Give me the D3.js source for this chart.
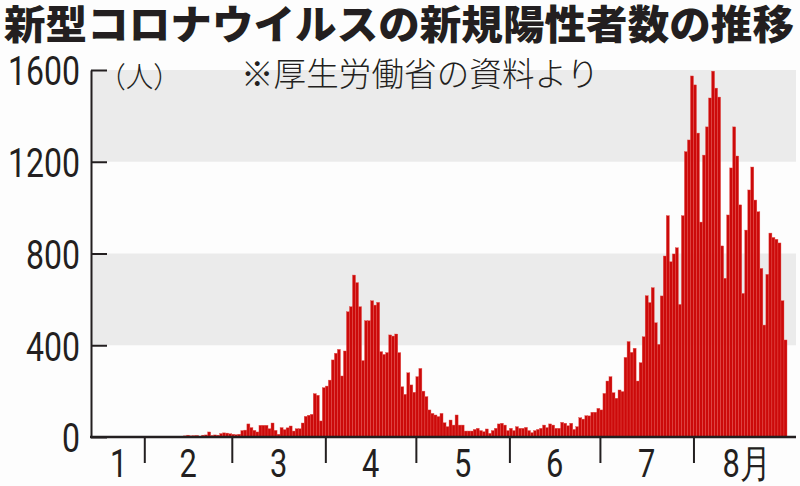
<!DOCTYPE html>
<html lang="ja">
<head>
<meta charset="utf-8">
<script src="https://cdn.jsdelivr.net/npm/d3@7"></script>
<style>
  body { margin: 0; background: #fdfdfd; }
  svg { display: block; }
  .axis path, .axis line { stroke: #231f20; stroke-width: 2; }
</style>
</head>
<body>
<svg id="chart" width="800" height="486"></svg>
<script>
// daily new cases (Jan 15 - Aug 31, 2020)
var jan = [0, 1, 0, 0, 0, 0, 0, 0, 0, 1, 1, 1, 0, 3, 1, 3, 2];
var feb = [2, 0, 0, 1, 0, 2, 0, 0, 0, 1, 0, 0, 3, 5, 8, 5, 6, 7, 3, 8,
           9, 22, 7, 9, 8, 15, 18, 17, 14];
var mar = [12, 10, 12, 28, 30, 57, 41, 29, 22, 51, 51, 51, 36, 61, 29, 12, 41, 32, 40, 48,
           26, 36, 36, 61, 90, 95, 99, 189, 182, 70, 215];
var apr = [222, 248, 336, 365, 382, 266, 375, 546, 568, 706, 673, 568, 333, 507, 507, 594, 575, 587, 372, 360,
           368, 445, 440, 449, 368, 219, 186, 280, 227, 195];
var may = [263, 299, 200, 176, 118, 103, 96, 89, 103, 62, 45, 74, 52, 96, 52, 52, 26, 26, 26, 33,
           38, 28, 23, 35, 16, 28, 38, 57, 60, 52, 28];
var jun = [38, 28, 45, 38, 38, 42, 28, 19, 28, 33, 38, 52, 41, 57, 52, 38, 38, 64, 60, 49,
           60, 33, 45, 84, 78, 93, 92, 108, 108, 125];
var jul = [118, 190, 244, 263, 193, 169, 205, 198, 347, 416, 369, 387, 244, 324, 437, 616, 586, 651, 498, 404,
           615, 789, 965, 764, 798, 825, 578, 965, 1244, 1295, 1574];
var aug = [1535, 1325, 937, 1229, 1352, 1478, 1595, 1521, 1482, 833, 692, 968, 1173, 1352, 1225, 1012, 626, 902, 1077, 1177,
           1033, 982, 735, 488, 709, 889, 870, 862, 846, 594, 423];

var monthLabels = ["1", "2", "3", "4", "5", "6", "7", "8月"];
var yTicks = [0, 400, 800, 1200, 1600];

var title = "新型コロナウイルスの新規陽性者数の推移",
    unitLabel = "（人）",
    sourceNote = "※厚生労働省の資料より";

var ink = "#231f20",
    barColor = "#cc0a0a",
    cjkFont = "'Noto Sans CJK JP', sans-serif",
    numFont = "Roboto, 'Noto Sans', sans-serif",
    squeeze = 0.8;

var months = [jan, feb, mar, apr, may, jun, jul, aug];
var values = d3.merge(months);
var starts = [], total = 0;
months.forEach(function(m) { starts.push(total); total += m.length; });

var svg = d3.select("#chart");
var left = 91, right = 796;

var x = d3.scaleLinear()
    .domain([0, values.length])
    .range([93, 787]);
var y = d3.scaleLinear()
    .domain([0, 1600])
    .range([437, 70]);

// grey bands on every second interval
svg.append("g")
    .selectAll("rect")
    .data(d3.range(1, yTicks.length - 1, 2))
    .enter().append("rect")
    .attr("x", left + 1)
    .attr("y", function(i) { return y(yTicks[i + 1]); })
    .attr("width", right - left - 1)
    .attr("height", function(i) { return y(yTicks[i]) - y(yTicks[i + 1]); })
    .attr("fill", "#ebebeb");

// bars
svg.append("g")
    .selectAll("rect")
    .data(values)
    .enter().append("rect")
    .attr("x", function(d, i) { return x(i); })
    .attr("y", function(d) { return y(d); })
    .attr("width", x(1) - x(0))
    .attr("height", function(d) { return y(0) - y(d); })
    .attr("fill", barColor)
    .attr("stroke", "#e5524d")
    .attr("stroke-width", 0.4);

// y axis, ticks pointing inward
var yAxis = d3.axisLeft(y)
    .tickValues(yTicks)
    .tickFormat(d3.format("d"))
    .tickSize(-16)
    .tickSizeOuter(0)
    .tickPadding(11);

var gy = svg.append("g")
    .attr("class", "axis")
    .attr("transform", "translate(" + left + ",0)")
    .call(yAxis);

gy.selectAll("text")
    .attr("x", -11 / squeeze)
    .attr("dy", "0.37em")
    .attr("transform", "scale(" + squeeze + ",1)")
    .style("font-family", numFont)
    .style("font-size", "40px")
    .style("fill", ink);

// x axis: month boundaries only
var xAxis = d3.axisBottom(x)
    .tickValues(starts.slice(1))
    .tickSize(26)
    .tickFormat("");

var gx = svg.append("g")
    .attr("class", "axis")
    .attr("transform", "translate(0," + y(0) + ")")
    .call(xAxis);
gx.select(".domain").remove();

svg.append("line")
    .attr("x1", left - 1)
    .attr("x2", right)
    .attr("y1", y(0))
    .attr("y2", y(0))
    .attr("stroke", ink)
    .attr("stroke-width", 2.5);

svg.append("g")
    .selectAll("text")
    .data(monthLabels)
    .enter().append("text")
    .attr("transform", function(d, i) {
        var mid = (x(starts[i]) + x(starts[i] + months[i].length)) / 2;
        return "translate(" + mid + ",477) scale(" + squeeze + ",1)";
    })
    .attr("dx", function(d) { return d.length > 1 ? 8 : 0; })
    .attr("text-anchor", "middle")
    .style("font-family", numFont)
    .style("font-size", "38.5px")
    .style("fill", ink)
    .text(function(d) { return d; });

// texts
svg.append("text")
    .attr("x", 4)
    .attr("y", 39)
    .attr("textLength", 790)
    .attr("lengthAdjust", "spacingAndGlyphs")
    .style("font-family", cjkFont)
    .style("font-weight", 900)
    .style("font-size", "40px")
    .style("fill", ink)
    .text(title);

svg.append("text")
    .attr("x", 112)
    .attr("y", 88)
    .attr("textLength", 55)
    .attr("lengthAdjust", "spacingAndGlyphs")
    .style("font-family", cjkFont)
    .style("font-weight", 300)
    .style("font-size", "29px")
    .style("font-feature-settings", "'halt'")
    .style("fill", ink)
    .text(unitLabel);

svg.append("text")
    .attr("x", 241)
    .attr("y", 86)
    .attr("textLength", 358)
    .attr("lengthAdjust", "spacing")
    .style("font-family", cjkFont)
    .style("font-weight", 300)
    .style("font-size", "32.5px")
    .style("fill", ink)
    .text(sourceNote);
</script>
</body>
</html>
